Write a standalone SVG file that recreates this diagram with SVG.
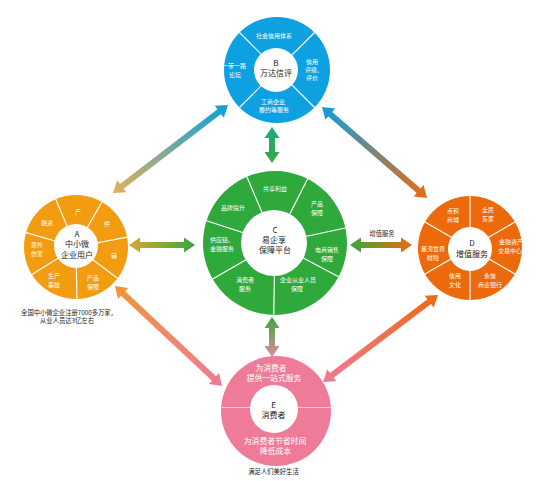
<svg xmlns="http://www.w3.org/2000/svg" width="550" height="481" viewBox="0 0 550 481">
<style>
text{font-family:"Noto Sans CJK SC","Noto Sans",sans-serif;text-anchor:middle}
.seg{fill:#fff;font-size:6px}
.big{fill:#fff;font-size:7.8px}
.ctr{fill:#222;font-size:8px}
.note{fill:#222;font-size:6.3px}
.dv{stroke:#fff;stroke-width:1.2}
.hole{fill:#fff}
</style>
<defs>
<linearGradient id="gAB" x1="0" y1="0" x2="1" y2="0"><stop offset="0" stop-color="#e3b05a"/><stop offset="1" stop-color="#0aa0de"/></linearGradient>
<linearGradient id="gBD" x1="0" y1="0" x2="1" y2="0"><stop offset="0" stop-color="#0aa0de"/><stop offset="1" stop-color="#ec6a10"/></linearGradient>
<linearGradient id="gAE" x1="0" y1="0" x2="1" y2="0"><stop offset="0" stop-color="#f39535"/><stop offset="1" stop-color="#ef7a98"/></linearGradient>
<linearGradient id="gED" x1="0" y1="0" x2="1" y2="0"><stop offset="0" stop-color="#ef7a98"/><stop offset="1" stop-color="#ec6a10"/></linearGradient>
<linearGradient id="gAC" x1="0" y1="0" x2="1" y2="0"><stop offset="0" stop-color="#dca638"/><stop offset="1" stop-color="#36a83a"/></linearGradient>
<linearGradient id="gCD" x1="0" y1="0" x2="1" y2="0"><stop offset="0" stop-color="#36a83a"/><stop offset="1" stop-color="#ec6a10"/></linearGradient>
<linearGradient id="gBC" x1="0" y1="0" x2="1" y2="0"><stop offset="0" stop-color="#22a880"/><stop offset="1" stop-color="#33a93c"/></linearGradient>
<linearGradient id="gCE" x1="0" y1="0" x2="1" y2="0"><stop offset="0" stop-color="#3aa83a"/><stop offset="1" stop-color="#e08a9e"/></linearGradient>
</defs>

<g id="connectors">
<polygon fill="url(#gAB)" transform="translate(113,193) rotate(-37.43)" points="0,0 11,-7.5 11,-3 133.8,-3 133.8,-7.5 144.8,0 133.8,7.5 133.8,3 11,3 11,7.5"/>
<polygon fill="url(#gBD)" transform="translate(322,107) rotate(40.91)" points="0,0 11,-7.5 11,-3 127.9,-3 127.9,-7.5 138.9,0 127.9,7.5 127.9,3 11,3 11,7.5"/>
<polygon fill="url(#gAE)" transform="translate(115,286) rotate(43.06)" points="0,0 11,-7.5 11,-3 135.5,-3 135.5,-7.5 146.5,0 135.5,7.5 135.5,3 11,3 11,7.5"/>
<polygon fill="url(#gED)" transform="translate(323,382) rotate(-37.11)" points="0,0 11,-7.5 11,-3 133.2,-3 133.2,-7.5 144.2,0 133.2,7.5 133.2,3 11,3 11,7.5"/>
<polygon fill="url(#gAC)" transform="translate(129,245)" points="0,0 11,-7.5 11,-3 55,-3 55,-7.5 66,0 55,7.5 55,3 11,3 11,7.5"/>
<polygon fill="url(#gCD)" transform="translate(350,245)" points="0,0 11,-7.5 11,-3 51,-3 51,-7.5 62,0 51,7.5 51,3 11,3 11,7.5"/>
<polygon fill="url(#gBC)" transform="translate(272,127) rotate(90)" points="0,0 11,-7.5 11,-3 25,-3 25,-7.5 36,0 25,7.5 25,3 11,3 11,7.5"/>
<polygon fill="url(#gCE)" transform="translate(272,317) rotate(90)" points="0,0 11,-7.5 11,-3 29,-3 29,-7.5 40,0 29,7.5 29,3 11,3 11,7.5"/>
<text class="note" x="382" y="235.5">增值服务</text>
</g>

<g id="nodeB">
<circle cx="277" cy="70" r="53" fill="#0ea1e2"/>
<line class="dv" x1="239.5" y1="32.5" x2="314.5" y2="107.5"/>
<line class="dv" x1="314.5" y1="32.5" x2="239.5" y2="107.5"/>
<circle class="hole" cx="276" cy="70" r="22"/>
<text class="seg" x="274" y="37.5">社会信用体系</text>
<text class="seg" x="234" y="67.5">一带一路</text>
<text class="seg" x="235" y="76.5">论坛</text>
<text class="seg" x="312" y="64">信用</text>
<text class="seg" x="314" y="71.8">评级、</text>
<text class="seg" x="312" y="79.6">评价</text>
<text class="seg" x="273" y="104">工商企业</text>
<text class="seg" x="274" y="112.3">履约等服务</text>
<text class="ctr" x="276" y="65.5">B</text>
<text class="ctr" x="276" y="76">万达信评</text>
</g>

<g id="nodeA">
<circle cx="76" cy="247" r="52" fill="#f39b11"/>
<line class="dv" x1="76" y1="247" x2="55.68" y2="199.13"/>
<line class="dv" x1="76" y1="247" x2="102" y2="201.97"/>
<line class="dv" x1="76" y1="247" x2="127.04" y2="237.08"/>
<line class="dv" x1="76" y1="247" x2="117.53" y2="278.29"/>
<line class="dv" x1="76" y1="247" x2="76.91" y2="298.99"/>
<line class="dv" x1="76" y1="247" x2="31.9" y2="274.55"/>
<line class="dv" x1="76" y1="247" x2="26.01" y2="232.67"/>
<circle class="hole" cx="76" cy="246" r="22"/>
<text class="seg" x="78" y="213.5">产</text>
<text class="seg" x="107" y="225.5">供</text>
<text class="seg" x="114" y="257.5">销</text>
<text class="seg" x="93" y="279.5">产品</text>
<text class="seg" x="93" y="288.5">保障</text>
<text class="seg" x="54" y="277.5">生产</text>
<text class="seg" x="54" y="286.5">事故</text>
<text class="seg" x="37" y="246.5">意外</text>
<text class="seg" x="37" y="255.5">伤害</text>
<text class="seg" x="47" y="224.5">融资</text>
<text class="ctr" x="77" y="237">A</text>
<text class="ctr" x="77" y="247">中小微</text>
<text class="ctr" x="77" y="258">企业用户</text>
<text class="note" x="69" y="314.5">全国中小微企业注册7000多万家，</text>
<text class="note" x="67" y="323">从业人员达3亿左右</text>
</g>

<g id="nodeC">
<circle cx="275" cy="243" r="72" fill="#2fa93b"/>
<line class="dv" x1="275" y1="243" x2="246.87" y2="176.72"/>
<line class="dv" x1="275" y1="243" x2="307.69" y2="178.85"/>
<line class="dv" x1="275" y1="243" x2="345.42" y2="228.03"/>
<line class="dv" x1="275" y1="243" x2="338.57" y2="276.8"/>
<line class="dv" x1="275" y1="243" x2="273.74" y2="314.99"/>
<line class="dv" x1="275" y1="243" x2="212.65" y2="279"/>
<line class="dv" x1="275" y1="243" x2="206.52" y2="220.75"/>
<circle class="hole" cx="274" cy="243" r="33"/>
<text class="seg" x="275" y="190.5">共享利益</text>
<text class="seg" x="317" y="205.5">产品</text>
<text class="seg" x="317" y="215">保障</text>
<text class="seg" x="327" y="252">电商销售</text>
<text class="seg" x="327" y="260.5">保障</text>
<text class="seg" x="298" y="282">企业从业人员</text>
<text class="seg" x="297" y="290.5">保障</text>
<text class="seg" x="245" y="282">消费者</text>
<text class="seg" x="245" y="290.5">服务</text>
<text class="seg" x="222" y="242">供应链、</text>
<text class="seg" x="222" y="250.5">金融服务</text>
<text class="seg" x="233" y="209.5">品牌提升</text>
<text class="ctr" x="275" y="232.5">C</text>
<text class="ctr" x="274" y="243">易企享</text>
<text class="ctr" x="275" y="253">保障平台</text>
</g>

<g id="nodeD">
<circle cx="470" cy="248" r="52" fill="#ec6a0c"/>
<line class="dv" x1="470" y1="248" x2="470" y2="196"/>
<line class="dv" x1="470" y1="248" x2="470" y2="300"/>
<line class="dv" x1="470" y1="248" x2="515.03" y2="222"/>
<line class="dv" x1="470" y1="248" x2="515.03" y2="274"/>
<line class="dv" x1="470" y1="248" x2="424.97" y2="274"/>
<line class="dv" x1="470" y1="248" x2="424.97" y2="222"/>
<circle class="hole" cx="470" cy="249" r="22"/>
<text class="seg" x="453" y="212.5">点积</text>
<text class="seg" x="453" y="221.5">商城</text>
<text class="seg" x="488" y="212">全民</text>
<text class="seg" x="488" y="220.5">东家</text>
<text class="seg" x="511" y="244">金融资产</text>
<text class="seg" x="510" y="252.5">交易中心</text>
<text class="seg" x="490" y="277.5">永信</text>
<text class="seg" x="490" y="286.5">商业银行</text>
<text class="seg" x="455" y="277.5">信用</text>
<text class="seg" x="455" y="286.5">文化</text>
<text class="seg" x="433" y="250.5">星河世界</text>
<text class="seg" x="433" y="259.5">财险</text>
<text class="ctr" x="472" y="245.5">D</text>
<text class="ctr" x="472" y="256.5">增值服务</text>
</g>

<g id="nodeE">
<circle cx="276" cy="411" r="55" fill="#ee7b98"/>
<line x1="221" y1="407.5" x2="331" y2="407.5" stroke="#f9c9d5" stroke-width="1.2"/>
<circle class="hole" cx="274" cy="409" r="24"/>
<text class="big" x="271" y="371">为消费者</text>
<text class="big" x="274" y="381">提供一站式服务</text>
<text class="big" x="275" y="443.5">为消费者节省时间</text>
<text class="big" x="275.5" y="453.5">降低成本</text>
<text class="ctr" x="273.5" y="407.5">E</text>
<text class="ctr" x="273.5" y="418">消费者</text>
<text class="note" x="273.5" y="473.5">满足人们美好生活</text>
</g>
</svg>
